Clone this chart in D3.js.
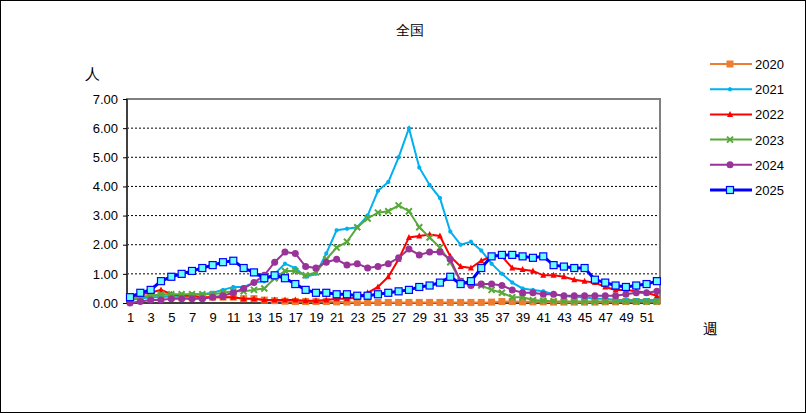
<!DOCTYPE html>
<html>
<head>
<meta charset="utf-8">
<script src="https://cdn.jsdelivr.net/npm/d3@7"></script>
<style>
  body { margin: 0; background: #fff; font-family: "Liberation Sans", Arial, sans-serif; }
  .grid line { stroke: #000; stroke-dasharray: 2,2; }
</style>
</head>
<body>
<svg width="806" height="413"></svg>
<script>
var weeks = d3.range(1, 53);
var years = ["2020", "2021", "2022", "2023", "2024", "2025"];
var colors = ["#ed7d31", "#00b0f0", "#ff0000", "#59a83a", "#993399", "#0000ff"];
var yTicks = [0, 1, 2, 3, 4, 5, 6, 7];

var v2020 = [0.2,0.2,0.25,0.25,0.2,0.2,0.2,0.2,0.2,0.2,0.2,0.15,0.15,0.1,0.08,0.06,0.05,0.05,0.05,0.05,0.04,0.03,0.02,0.02,0.02,0.02,0.02,0.02,0.02,0.02,0.02,0.02,0.02,0.02,0.02,0.03,0.05,0.05,0.04,0.04,0.04,0.03,0.03,0.03,0.03,0.03,0.04,0.04,0.05,0.05,0.05,0.05];
var v2021 = [0.1,0.15,0.2,0.2,0.25,0.25,0.3,0.3,0.35,0.45,0.55,0.55,0.7,0.75,1.0,1.35,1.2,0.9,1.0,1.7,2.5,2.55,2.6,3.0,3.85,4.15,5.0,6.0,4.65,4.05,3.6,2.45,2.0,2.1,1.8,1.35,1.0,0.7,0.5,0.45,0.4,0.3,0.25,0.2,0.2,0.15,0.15,0.1,0.1,0.1,0.1,0.1];
var v2022 = [0.2,0.3,0.35,0.45,0.3,0.25,0.25,0.2,0.2,0.2,0.2,0.15,0.15,0.1,0.1,0.1,0.1,0.08,0.08,0.1,0.15,0.15,0.2,0.35,0.55,0.9,1.5,2.25,2.3,2.35,2.3,1.6,1.25,1.2,1.45,1.6,1.6,1.2,1.15,1.1,0.95,0.95,0.9,0.8,0.75,0.7,0.55,0.45,0.45,0.4,0.35,0.25];
var v2023 = [0.1,0.2,0.25,0.3,0.3,0.3,0.3,0.3,0.3,0.35,0.4,0.4,0.45,0.5,0.85,1.1,1.1,0.95,1.05,1.5,1.9,2.1,2.6,2.9,3.1,3.15,3.35,3.15,2.6,2.25,1.9,1.4,0.75,0.65,0.6,0.45,0.35,0.2,0.2,0.1,0.08,0.06,0.05,0.05,0.05,0.05,0.05,0.05,0.05,0.05,0.05,0.05];
var v2024 = [0.0,0.05,0.1,0.1,0.15,0.15,0.15,0.15,0.2,0.25,0.35,0.5,0.7,0.95,1.4,1.75,1.7,1.25,1.2,1.4,1.5,1.3,1.35,1.2,1.25,1.35,1.55,1.85,1.65,1.75,1.75,1.5,0.75,0.6,0.65,0.65,0.6,0.45,0.35,0.35,0.3,0.3,0.25,0.25,0.25,0.25,0.25,0.25,0.3,0.35,0.35,0.4];
var v2025 = [0.2,0.35,0.45,0.75,0.9,1.0,1.1,1.2,1.3,1.4,1.45,1.2,1.05,0.85,0.95,0.85,0.65,0.45,0.35,0.35,0.3,0.3,0.25,0.25,0.3,0.35,0.4,0.45,0.55,0.6,0.7,0.9,0.65,0.75,1.2,1.6,1.65,1.65,1.6,1.55,1.6,1.3,1.25,1.2,1.2,0.8,0.7,0.6,0.55,0.6,0.65,0.75];
var series = [v2020, v2021, v2022, v2023, v2024, v2025];

var svg = d3.select("svg");
svg.append("rect").attr("x", 0.5).attr("y", 0.5).attr("width", 805).attr("height", 412)
  .attr("fill", "#fff").attr("stroke", "#000");

var plotLeft = 127, plotRight = 660, plotTop = 99, plotBottom = 303;
var x = d3.scaleLinear().domain([1, 52.3]).range([130, plotRight]);
var y = d3.scaleLinear().domain([0, 7]).range([plotBottom, plotTop]);

svg.append("g").attr("class", "grid").selectAll("line")
  .data(yTicks.slice(1, 7)).enter().append("line")
  .attr("x1", plotLeft).attr("x2", plotRight)
  .attr("y1", function(d) { return y(d); }).attr("y2", function(d) { return y(d); });

svg.append("rect").attr("x", plotLeft).attr("y", plotTop).attr("width", plotRight - plotLeft).attr("height", plotBottom - plotTop)
  .attr("fill", "none").attr("stroke", "#808080").attr("stroke-width", 2);
svg.append("line").attr("x1", plotLeft).attr("x2", plotLeft).attr("y1", plotTop).attr("y2", plotBottom).attr("stroke", "#000");
svg.append("line").attr("x1", plotLeft).attr("x2", plotRight).attr("y1", plotBottom).attr("y2", plotBottom).attr("stroke", "#000");

var yAxis = svg.append("g").attr("transform", "translate(" + plotLeft + ",0)")
  .call(d3.axisLeft(y).tickValues(yTicks).tickSize(4).tickFormat(d3.format(".2f")));
yAxis.select(".domain").remove();
yAxis.selectAll("text").attr("font-size", 13).attr("fill", "#000").attr("x", -9);

var xAxis = svg.append("g").attr("transform", "translate(0," + plotBottom + ")")
  .call(d3.axisBottom(x).tickValues(weeks.filter(function(d) { return d % 2 === 1; })).tickSize(0).tickFormat(d3.format("d")));
xAxis.select(".domain").remove();
xAxis.selectAll("text").attr("font-size", 13).attr("fill", "#000").attr("dy", "1.2em");

svg.append("text").attr("x", 410).attr("y", 35).attr("text-anchor", "middle").attr("font-size", 14).text("全国");
svg.append("text").attr("x", 92).attr("y", 79).attr("text-anchor", "middle").attr("font-size", 15).text("人");
svg.append("text").attr("x", 710).attr("y", 334).attr("text-anchor", "middle").attr("font-size", 15).text("週");

var line = d3.line().x(function(d, i) { return x(weeks[i]); }).y(function(d) { return y(d); });

function marker(g, k, c) {
  if (k === 0) g.append("rect").attr("x", -3.5).attr("y", -3.5).attr("width", 7).attr("height", 7).attr("fill", c);
  else if (k === 1) g.append("path").attr("d", "M-2,0L2,0M0,-2L0,2").attr("stroke", c).attr("stroke-width", 2.5);
  else if (k === 2) g.append("path").attr("d", "M-3,2.5L3,2.5L0,-3.5Z").attr("fill", c);
  else if (k === 3) g.append("path").attr("d", "M-3,-3L3,3M-3,3L3,-3").attr("stroke", c).attr("stroke-width", 2);
  else if (k === 4) g.append("circle").attr("r", 3.5).attr("fill", c);
  else g.append("rect").attr("x", -3.5).attr("y", -3.5).attr("width", 7).attr("height", 7)
    .attr("fill", "#66ffff").attr("stroke", c).attr("stroke-width", 1.2);
}

series.forEach(function(vals, k) {
  var c = colors[k];
  svg.append("path").datum(vals).attr("d", line).attr("fill", "none")
    .attr("stroke", c).attr("stroke-width", k === 5 ? 3 : 2);
  vals.forEach(function(v, i) {
    marker(svg.append("g").attr("transform", "translate(" + x(weeks[i]) + "," + y(v) + ")"), k, c);
  });
  var ly = 64 + k * 25.2;
  svg.append("line").attr("x1", 710).attr("x2", 752).attr("y1", ly).attr("y2", ly)
    .attr("stroke", c).attr("stroke-width", k === 5 ? 3 : 2);
  marker(svg.append("g").attr("transform", "translate(730," + ly + ")"), k, c);
  svg.append("text").attr("x", 755).attr("y", ly + 5).attr("font-size", 13).text(years[k]);
});
</script>
</body>
</html>
